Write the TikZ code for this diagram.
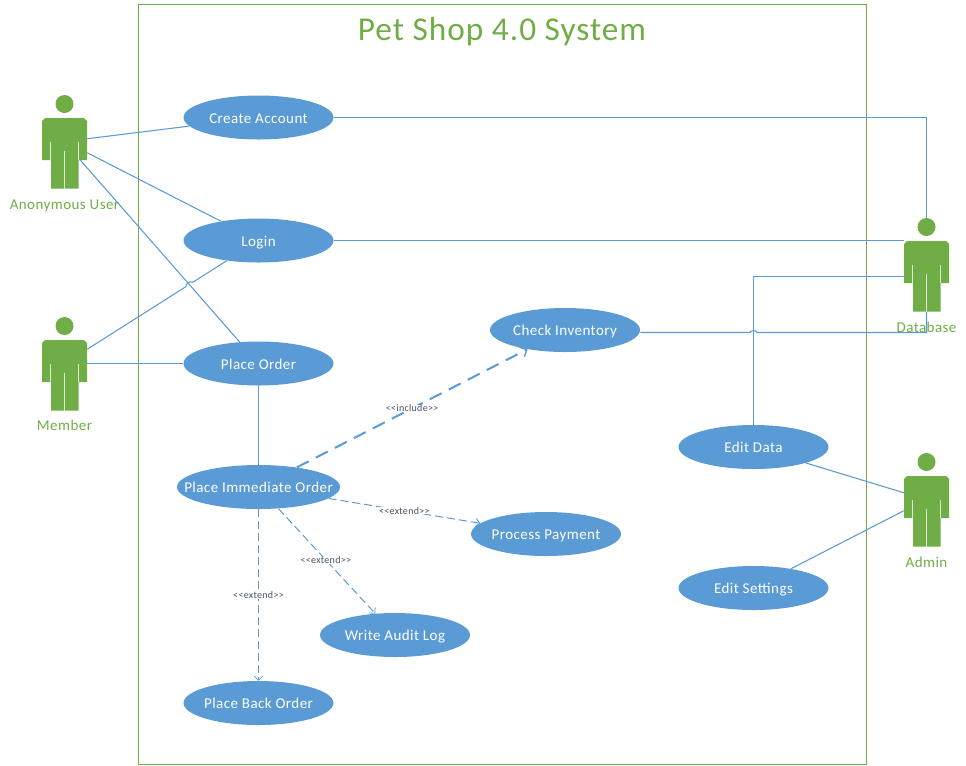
\documentclass[tikz,border=0pt]{standalone}
\usepackage{fontspec}
\setmainfont{Carlito}
\newfontfamily\spacedfont[LetterSpace=3]{Carlito}
\usetikzlibrary{arrows.meta,calc,shapes.geometric}
\definecolor{ublue}{HTML}{5B9BD5}
\definecolor{ugreen}{HTML}{70AD47}
\definecolor{ulabel}{HTML}{44546A}
\newcommand{\uctext}[1]{\makebox[0pt]{\raisebox{-4.25pt}[0pt][0pt]{#1}}}
\tikzset{
  usecase/.style={ellipse,fill=ublue,text=white,minimum width=112.5pt,minimum height=33pt,inner sep=0pt,font=\spacedfont\fontsize{11.25}{13}\selectfont},
  actorbox/.style={rectangle,minimum width=33.75pt,minimum height=70.125pt,inner sep=0pt},
  actorname/.style={text=ugreen,font=\spacedfont\fontsize{11.25}{13}\selectfont,inner sep=0pt,anchor=base},
  link/.style={draw=ublue,line width=0.8pt},
  extendlink/.style={draw=ublue,line width=0.75pt,dash pattern=on 6pt off 3pt,-{Straight Barb[length=3pt,width=6pt,line width=0.6pt,round]}},
  includelink/.style={draw=ublue,line width=1.5pt,dash pattern=on 10pt off 6pt,-{Straight Barb[length=3.75pt,width=7.5pt,line width=1pt,round]}},
  stereotype/.style={fill=white,text=ulabel,inner xsep=1pt,inner ysep=0pt,font=\spacedfont\fontsize{7.5}{8}\selectfont},
}
\newcommand{\umlactor}[5]{%
  \begin{scope}[shift={(#2,#3)}]
    \fill[ugreen] (0,0) circle[radius=9];
    \fill[ugreen] (-19.5,14) -- (19.5,14) -- (22.5,17) -- (22.5,56) -- (14,56) -- (14,84.5) -- (-13.5,84.5) -- (-13.5,56) -- (-22.5,56) -- (-22.5,17) -- cycle;
    \draw[white!75!ugreen,line width=0.6pt] (-14,37.5) -- (-14,56) (14,37.5) -- (14,56) (0,46.5) -- (0,84.5);
    \node[actorbox] (#1) at (0,37.75) {};
  \end{scope}
  \node[actorname] (#1name) at (#2,#3+#5) {#4};
}
\begin{document}
\begin{tikzpicture}[x=0.75pt,y=-0.75pt]
\useasboundingbox (0,0) rectangle (966,765);
\node[draw=ugreen,line width=0.75pt,minimum width=546pt,minimum height=570pt,inner sep=0pt] (frame) at (502,384) {};
\node[text=ugreen,inner sep=0pt,anchor=base,font=\spacedfont\fontsize{25}{29}\selectfont] (title) at (502,40.5) {Pet Shop 4.0 System};

\umlactor{anon}{64.5}{104}{Anonymous User}{105}
\umlactor{member}{64.5}{326}{Member}{104}
\umlactor{db}{926.5}{227}{Database}{105}
\umlactor{admin}{926.5}{462}{Admin}{105}

\node[usecase] (create) at (258.5,117.5) {\uctext{Create Account}};
\node[usecase] (login) at (258.5,240.5) {\uctext{Login}};
\node[usecase] (order) at (258.5,363.5) {\uctext{Place Order}};
\node[usecase,minimum width=122.25pt] (immediate) at (258.5,487) {\uctext{Place Immediate Order}};
\node[usecase] (payment) at (546,534) {\uctext{Process Payment}};
\node[usecase] (audit) at (395,635) {\uctext{Write Audit Log}};
\node[usecase] (back) at (258.5,703) {\uctext{Place Back Order}};
\node[usecase] (check) at (565,330) {\uctext{Check Inventory}};
\node[usecase] (editdata) at (753.5,447) {\uctext{Edit Data}};
\node[usecase] (editset) at (753.5,588) {\uctext{Edit Settings}};

\coordinate (anonA) at ($(anon.east)+(0,-3)$);
\coordinate (anonB) at ($(anon.east)+(0,11)$);
\coordinate (anonC) at ($(anon.center)+(15.5,18)$);
\coordinate (memberA) at ($(member.east)+(0,-14.5)$);
\coordinate (memberB) at ($(member.east)+(0,-0.25)$);
\coordinate (dbA) at ($(db.west)+(0,-24.25)$);
\coordinate (dbB) at ($(db.west)+(0,11.75)$);
\coordinate (adminA) at ($(admin.west)+(0,-7)$);
\coordinate (adminB) at ($(admin.west)+(0,11)$);
\coordinate (checkout) at ($(check.east)+(0,2.5)$);
\coordinate (jumpA) at (intersection of memberA--login.center and anonC--order.center);
\coordinate (jumpB) at (editdata.north |- checkout);

\draw[link] (anonA) -- (create);
\draw[link] (anonB) -- (login);
\draw[link] (anonC) -- (order);
\draw[link] (memberA) -- ($(jumpA)!3pt!(memberA)$) to[bend left=70] ($(jumpA)!3pt!(login)$) -- (login);
\draw[link] (memberB) -- (order.west);
\draw[link] (order) -- (immediate);
\draw[link] (create.east) -| (db.north);
\draw[link] (login.east |- dbA) -- (dbA);
\draw[link] (checkout) -- ($(jumpB)+(-3.5,0)$) to[bend left=70] ($(jumpB)+(3.5,0)$) -| (db.south);
\draw[link] (editdata.north) |- (dbB);
\draw[link] (editdata) -- (adminA);
\draw[link] (editset) -- (adminB);

\draw[includelink] (immediate) -- node[stereotype] (incl) {<{}<include>{}>} (check);
\draw[extendlink] (immediate) -- node[stereotype,pos=0.5] (ext1) {<{}<extend>{}>} (payment);
\draw[extendlink] (immediate) -- node[stereotype,pos=0.49] (ext2) {<{}<extend>{}>} (audit);
\draw[extendlink] (immediate) -- node[stereotype] (ext3) {<{}<extend>{}>} (back);
\end{tikzpicture}
\end{document}
